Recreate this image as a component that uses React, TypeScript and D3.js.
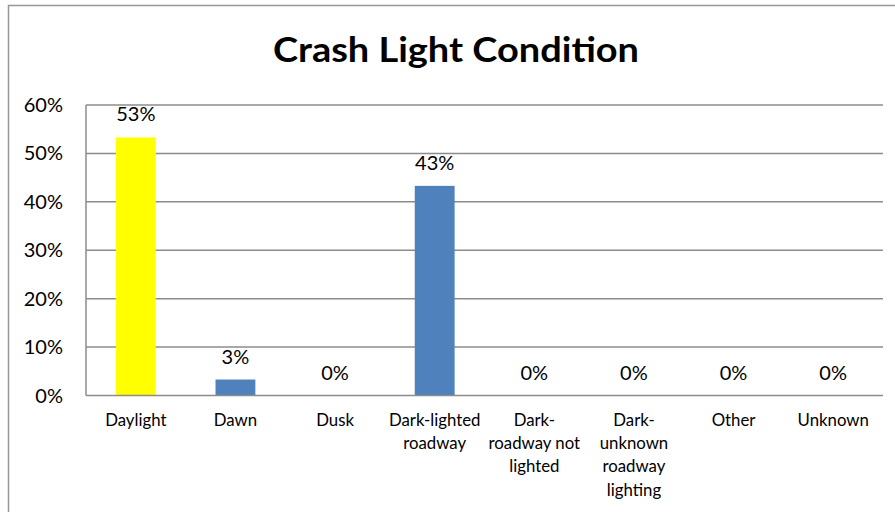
import React from "react";
import * as d3 from "d3";

const categories: string[][] = [
  ["Daylight"],
  ["Dawn"],
  ["Dusk"],
  ["Dark-lighted", "roadway"],
  ["Dark-", "roadway not", "lighted"],
  ["Dark-", "unknown", "roadway", "lighting"],
  ["Other"],
  ["Unknown"],
];
const values: number[] = [0.533, 0.033, 0, 0.433, 0, 0, 0, 0];
const barColors: string[] = ["#FFFF00", "#4F81BD", "#4F81BD", "#4F81BD", "#4F81BD", "#4F81BD", "#4F81BD", "#4F81BD"];
const yTicks: number[] = [0, 0.1, 0.2, 0.3, 0.4, 0.5, 0.6];
const title = "Crash Light Condition";

const W = 895;
const H = 512;
const FONT = "Lato, 'Open Sans', sans-serif";

export default function App() {
  const left = 86;
  const right = 883;
  const top = 105;
  const bottom = 395.5;
  const x = d3
    .scaleBand<number>()
    .domain(d3.range(categories.length))
    .range([left, right])
    .paddingInner(0.6)
    .paddingOuter(0.3);
  const y = d3.scaleLinear().domain([0, 0.6]).range([bottom, top]);
  const fmt = d3.format(".0%");
  const gridColor = "#8C8C8C";

  return (
    <svg
      width={W}
      height={H}
      style={{ position: "fixed", left: 0, top: 0, background: "#fff" }}
      fontFamily={FONT}
    >
      <rect x={8.5} y={5.5} width={W} height={H} fill="#fff" stroke="#979797" strokeWidth={1.5} />
      <text
        x={456}
        y={62}
        textAnchor="middle"
        fontSize={34}
        fontWeight="bold"
        fill="#000"
        textLength={366}
        lengthAdjust="spacingAndGlyphs"
      >
        {title}
      </text>
      {yTicks.map((t) => (
        <g key={t}>
          {t > 0 && (
            <line x1={left} x2={right} y1={y(t)} y2={y(t)} stroke={gridColor} strokeWidth={1.5} />
          )}
          <text x={63} y={y(t)} dy="0.35em" textAnchor="end" fontSize={20} fill="#000">
            {fmt(t)}
          </text>
        </g>
      ))}
      {values.map((v, i) => (
        <g key={i}>
          <rect
            x={x(i)!}
            y={y(v)}
            width={x.bandwidth()}
            height={y(0) - y(v)}
            fill={barColors[i]}
          />
          <text
            x={x(i)! + x.bandwidth() / 2}
            y={y(v) - 23}
            dy="0.35em"
            textAnchor="middle"
            fontSize={20}
            fill="#000"
          >
            {fmt(v)}
          </text>
          {categories[i].map((line, j) => (
            <text
              key={j}
              x={x(i)! + x.bandwidth() / 2}
              y={420 + j * 23.3}
              dy="0.35em"
              textAnchor="middle"
              fontSize={16.8}
              fill="#000"
            >
              {line}
            </text>
          ))}
        </g>
      ))}
      <line x1={left} x2={left} y1={top} y2={bottom} stroke={gridColor} strokeWidth={1.5} />
      <line x1={left} x2={right} y1={bottom} y2={bottom} stroke={gridColor} strokeWidth={1.5} />
    </svg>
  );
}
